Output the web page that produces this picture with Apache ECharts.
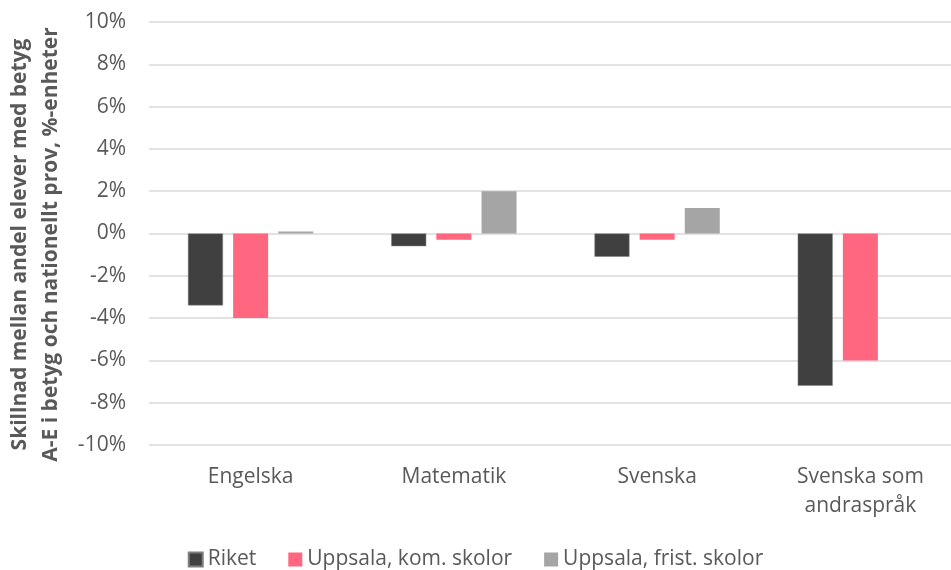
<!DOCTYPE html>
<html>
<head>
    <meta charset="utf-8">
    <script src="https://cdn.jsdelivr.net/npm/echarts@6/dist/echarts.min.js"></script>
</head>
<body style="margin:0">
<div id="main" style="width:951px;height:570px;"></div>
<script type="text/javascript">
    // ämnen och värden (%-enheter)
    var categories = ['Engelska', 'Matematik', 'Svenska', 'Svenska som\nandraspråk'];
    var riket = [-3.4, -0.6, -1.1, -7.2];
    var uppsalaKom = [-4.0, -0.3, -0.3, -6.0];
    var uppsalaFrist = [0.1, 2.0, 1.2, null];
    var yTicks = [-10, -8, -6, -4, -2, 0, 2, 4, 6, 8, 10];

    var font = 'Open Sans';
    var myChart = echarts.init(document.getElementById('main'));

    myChart.setOption({
        animation: false,
        textStyle: {fontFamily: font},
        grid: {left: 149, width: 813, top: 22, bottom: 125, outerBoundsMode: 'none', containLabel: false},
        legend: {
            top: 544,
            left: 'center',
            itemWidth: 14,
            itemHeight: 14,
            itemGap: 32,
            itemTextGap: 7,
            icon: 'rect',
            textStyle: {fontSize: 21, color: '#595959', fontFamily: font},
            data: ['Riket', 'Uppsala, kom. skolor', 'Uppsala, frist. skolor']
        },
        xAxis: {
            type: 'category',
            data: categories,
            axisLine: {show: false, onZero: false},
            axisTick: {show: false},
            axisLabel: {
                fontSize: 21,
                color: '#595959',
                margin: 18,
                lineHeight: 29
            }
        },
        yAxis: {
            type: 'value',
            min: yTicks[0],
            max: yTicks[yTicks.length - 1],
            interval: 2,
            name: 'Skillnad mellan andel elever med betyg\nA-E i betyg och nationellt prov, %-enheter',
            nameLocation: 'middle',
            nameGap: 82,
            nameTextStyle: {
                fontSize: 21,
                fontWeight: 'bold',
                color: '#595959',
                lineHeight: 31,
                padding: [0, 22, 0, 0]
            },
            axisLabel: {
                fontSize: 21,
                color: '#595959',
                margin: 23,
                formatter: function (v) { return v + '%'; }
            },
            splitLine: {lineStyle: {color: '#D9D9D9', width: 1.5}}
        },
        series: [
            {
                name: 'Riket',
                type: 'bar',
                data: riket,
                barWidth: 35,
                barGap: '29%',
                itemStyle: {color: '#404040', borderColor: '#7f7f7f', borderWidth: 0.5}
            },
            {
                name: 'Uppsala, kom. skolor',
                type: 'bar',
                data: uppsalaKom,
                barWidth: 35,
                barGap: '29%',
                itemStyle: {color: '#FF6680'}
            },
            {
                name: 'Uppsala, frist. skolor',
                type: 'bar',
                data: uppsalaFrist,
                barWidth: 35,
                barGap: '29%',
                itemStyle: {color: '#A5A5A5'}
            }
        ]
    });
</script>
</body>
</html>
